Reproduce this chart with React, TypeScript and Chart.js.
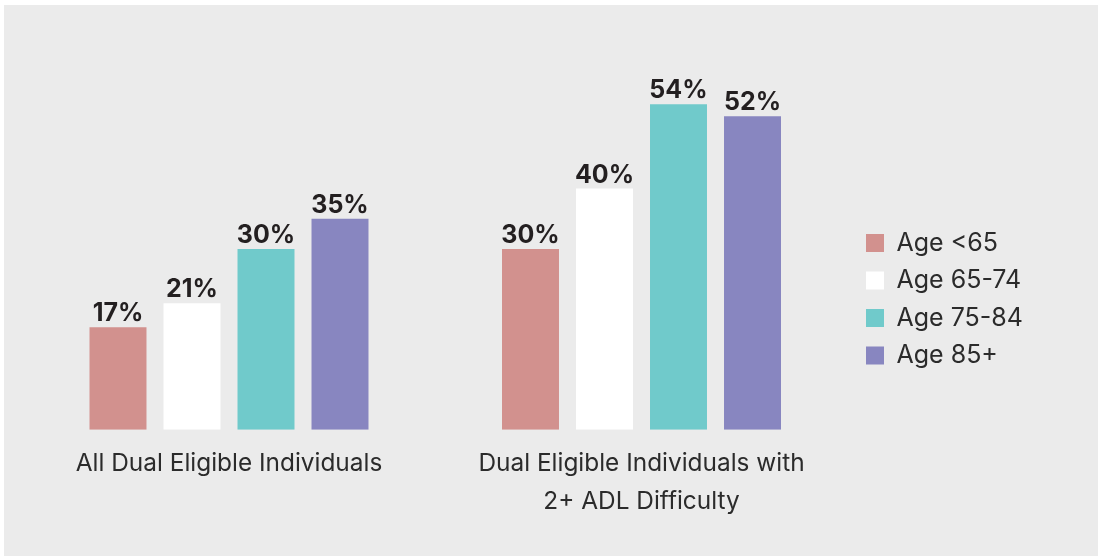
import React, { useEffect, useRef } from "react";
import { Chart, registerables, layouts } from "chart.js";

Chart.register(...registerables);

const categories: (string | string[])[] = [
  "All Dual Eligible Individuals",
  ["Dual Eligible Individuals with", "2+ ADL Difficulty"],
];
const seriesNames = ["Age <65", "Age 65-74", "Age 75-84", "Age 85+"];
const ageUnder65 = [17, 30];
const age65to74 = [21, 40];
const age75to84 = [30, 54];
const age85plus = [35, 52];
const seriesColors = ["#d2918e", "#ffffff", "#70cacb", "#8886c0"];

const TEXT = "#2b2b2b";
const FONT = "Inter, 'Noto Sans', sans-serif";

const valueLabels = {
  id: "valueLabels",
  afterDatasetsDraw(chart: any) {
    const ctx = chart.ctx;
    ctx.save();
    ctx.font = `700 25px ${FONT}`;
    ctx.fillStyle = "#231f20";
    ctx.textAlign = "center";
    ctx.textBaseline = "alphabetic";
    chart.data.datasets.forEach((ds: any, i: number) => {
      const meta = chart.getDatasetMeta(i);
      meta.data.forEach((el: any, j: number) => {
        ctx.fillText(`${ds.data[j]}%`, el.x, el.y - 6);
      });
    });
    ctx.restore();
  },
};

// Empty layout box that sits between the plot area and the legend.
const legendGap = {
  id: "legendGap",
  beforeInit(chart: any) {
    const gap = 5.75;
    const box: any = {
      position: "right",
      weight: 0,
      fullSize: false,
      options: {},
      width: gap,
      height: 0,
      left: 0,
      top: 0,
      right: 0,
      bottom: 0,
      isHorizontal() {
        return false;
      },
      update(_maxWidth: number, maxHeight: number) {
        this.width = gap;
        this.height = maxHeight;
      },
      draw() {},
    };
    layouts.addBox(chart, box);
  },
};

export default function App() {
  const ref = useRef<HTMLCanvasElement>(null);
  useEffect(() => {
    if (!ref.current) return;
    const seriesValues = [ageUnder65, age65to74, age75to84, age85plus];
    const chart = new Chart(ref.current, {
      type: "bar",
      data: {
        labels: categories,
        datasets: seriesNames.map((name, i) => ({
          label: name,
          data: seriesValues[i],
          backgroundColor: seriesColors[i],
          borderWidth: 0,
          categoryPercentage: 0.7176,
          barPercentage: 0.77,
        })),
      },
      options: {
        responsive: false,
        animation: false,
        layout: { padding: { left: 18.75, right: 72.5, top: 63, bottom: 20.6 } },
        scales: {
          x: {
            grid: { display: false, drawTicks: false },
            border: { display: false },
            ticks: {
              color: TEXT,
              font: { family: FONT, size: 24.4, lineHeight: 37.6 / 24.4 },
              padding: 15.2,
              maxRotation: 0,
              autoSkip: false,
            },
          },
          y: {
            display: false,
            min: 0,
            max: 60,
          },
        },
        plugins: {
          tooltip: { enabled: false },
          legend: {
            position: "right",
            align: "start",
            maxWidth: 172,
            title: {
              display: true,
              text: "",
              font: { size: 10, lineHeight: 1 },
              padding: { top: 140, bottom: 0 },
            },
            labels: {
              color: TEXT,
              font: { family: FONT, size: 25 },
              boxWidth: 18,
              boxHeight: 18,
              padding: 12.5,
            },
          },
        },
      },
      plugins: [valueLabels, legendGap],
    });
    return () => chart.destroy();
  }, []);
  return (
    <div style={{ position: "relative", width: 1098, height: 557, background: "#ffffff" }}>
      <style>{`body{margin:0}`}</style>
      <div
        style={{
          position: "absolute",
          left: 4,
          top: 5,
          width: 1094,
          height: 551,
          background: "#ebebeb",
        }}
      >
        <canvas ref={ref} width={1094} height={551} style={{ display: "block" }} />
      </div>
    </div>
  );
}
